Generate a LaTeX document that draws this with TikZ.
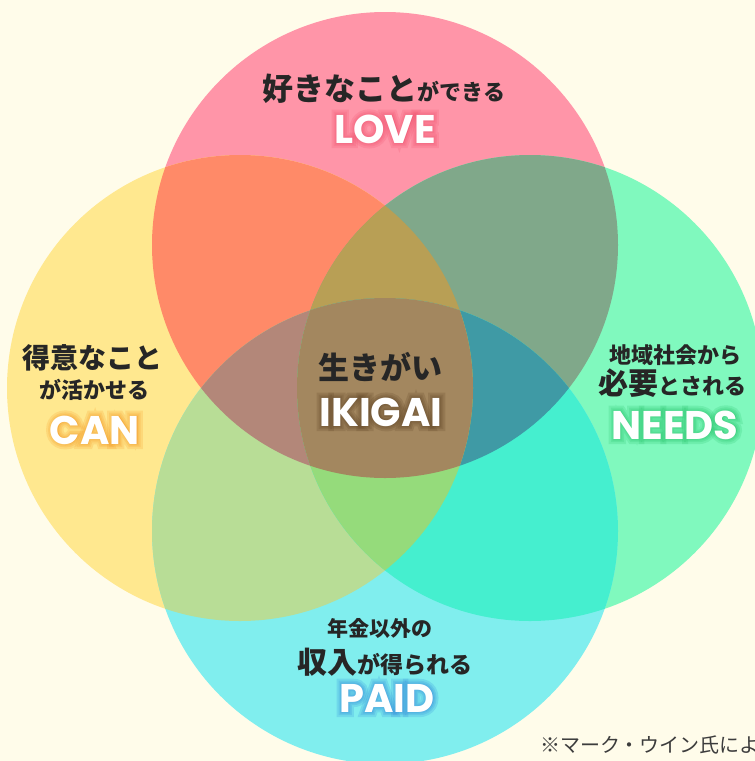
\documentclass[tikz,border=0pt]{standalone}
\usepackage{fontspec}
\newfontfamily\jp{Noto Sans CJK JP}
\newfontfamily\en{Poppins}
\newfontfamily\enGa{Poppins}[BoldFeatures={FakeBold=8}]
\newfontfamily\enGb{Poppins}[BoldFeatures={FakeBold=16}]
\newfontfamily\enGc{Poppins}[BoldFeatures={FakeBold=26}]
\definecolor{bgc}{HTML}{FFFCEA}
\definecolor{cT}{HTML}{FF95A8}
\definecolor{cL}{HTML}{FFE88F}
\definecolor{cR}{HTML}{80F9BE}
\definecolor{cB}{HTML}{80EEEE}
\definecolor{cTL}{HTML}{FF8A68}
\definecolor{cTR}{HTML}{80A88A}
\definecolor{cLB}{HTML}{B8DD96}
\definecolor{cRB}{HTML}{45EFCF}
\definecolor{cTLR}{HTML}{B89F55}
\definecolor{cTLB}{HTML}{B38779}
\definecolor{cTRB}{HTML}{3F9AA5}
\definecolor{cLRB}{HTML}{95DB7B}
\definecolor{cAll}{HTML}{A3875F}
\definecolor{ink}{HTML}{262626}
\definecolor{gLove}{HTML}{F0506E}
\definecolor{gCan}{HTML}{F59A23}
\definecolor{gNeeds}{HTML}{27C46A}
\definecolor{gPaid}{HTML}{2F86DA}
\definecolor{gIki}{HTML}{5E4324}
\tikzset{
  jptext/.style={anchor=base, inner sep=0pt, text=ink, font=\jp\bfseries},
  enlbl/.style={anchor=base, inner sep=0pt, font=\en\bfseries\fontsize{40}{44}\selectfont},
  glowa/.style={anchor=base, inner sep=0pt, font=\enGa\bfseries\fontsize{40}{44}\selectfont},
  glowb/.style={anchor=base, inner sep=0pt, font=\enGb\bfseries\fontsize{40}{44}\selectfont},
  glowc/.style={anchor=base, inner sep=0pt, font=\enGc\bfseries\fontsize{40}{44}\selectfont},
  note/.style={anchor=base west, inner sep=0pt, text=ink!90, font=\jp\fontsize{20}{22}\selectfont},
}
\newcommand\glowlbl[4]{%
  \begin{scope}[opacity=0.2]
    \node[glowc, text=#3] (#1-gc) at (#2) {#4};
    \node[glowb, text=#3] (#1-gb) at (#2) {#4};
    \node[glowa, text=#3] (#1-ga) at (#2) {#4};
  \end{scope}
  \node[enlbl, text=white] (#1) at (#2) {#4};}
\newcommand\fs[1]{\fontsize{#1}{#1}\selectfont}
\begin{document}
\begin{tikzpicture}[x=1pt,y=-1pt]
\useasboundingbox (0,0) rectangle (755,761);
\clip (0,0) rectangle (755,761);
\fill[bgc] (0,0) rectangle (755,761);
\coordinate (T) at (385,245);
\coordinate (L) at (240,388);
\coordinate (R) at (530,388);
\coordinate (B) at (385,531);
\def\rad{233pt}
% single circles
\fill[cT] (T) circle[radius=\rad];
\fill[cL] (L) circle[radius=\rad];
\fill[cR] (R) circle[radius=\rad];
\fill[cB] (B) circle[radius=\rad];
% pairs
\begin{scope}\clip (T) circle[radius=\rad]; \fill[cTL] (L) circle[radius=\rad];\end{scope}
\begin{scope}\clip (T) circle[radius=\rad]; \fill[cTR] (R) circle[radius=\rad];\end{scope}
\begin{scope}\clip (L) circle[radius=\rad]; \fill[cLB] (B) circle[radius=\rad];\end{scope}
\begin{scope}\clip (R) circle[radius=\rad]; \fill[cRB] (B) circle[radius=\rad];\end{scope}
% triples
\begin{scope}\clip (T) circle[radius=\rad]; \clip (L) circle[radius=\rad]; \fill[cTLR] (R) circle[radius=\rad];\end{scope}
\begin{scope}\clip (T) circle[radius=\rad]; \clip (L) circle[radius=\rad]; \fill[cTLB] (B) circle[radius=\rad];\end{scope}
\begin{scope}\clip (T) circle[radius=\rad]; \clip (R) circle[radius=\rad]; \fill[cTRB] (B) circle[radius=\rad];\end{scope}
\begin{scope}\clip (L) circle[radius=\rad]; \clip (R) circle[radius=\rad]; \fill[cLRB] (B) circle[radius=\rad];\end{scope}
% all four
\begin{scope}\clip (T) circle[radius=\rad]; \clip (L) circle[radius=\rad]; \clip (R) circle[radius=\rad]; \fill[cAll] (B) circle[radius=\rad];\end{scope}

% label positions (baselines)
\coordinate (loveP) at (385,143);
\coordinate (canP) at (95,444);
\coordinate (needsP) at (675,439);
\coordinate (paidP) at (387,712);
\coordinate (ikiP) at (381,426);

% LOVE
\node[jptext] (love1) at (384,100) {{\fs{31}好きなこと}{\fs{22}ができる}};
\glowlbl{love}{loveP}{gLove}{LOVE}
% CAN
\node[jptext] (can1) at (93,368) {\fs{28}得意なこと};
\node[jptext] (can2) at (94,398) {\fs{22}が活かせる};
\glowlbl{can}{canP}{gCan}{CAN}
% NEEDS
\node[jptext] (needs1) at (675,363) {\fs{22}地域社会から};
\node[jptext] (needs2) at (672,394) {{\fs{30}必要}{\fs{22}とされる}};
\glowlbl{needs}{needsP}{gNeeds}{NEEDS}
% PAID
\node[jptext] (paid1) at (380,636) {\fs{21}年金以外の};
\node[jptext] (paid2) at (385,673) {{\fs{30}収入}{\fs{23}が得られる}};
\glowlbl{paid}{paidP}{gPaid}{PAID}
% IKIGAI
\node[jptext] (iki1) at (380,379) {\fs{31}生きがい};
\glowlbl{iki}{ikiP}{gIki}{IKIGAI}
% footnote (cut at the right edge, as in the reference)
\node[note] (src) at (540,752) {※マーク・ウイン氏によ};
\end{tikzpicture}
\end{document}
